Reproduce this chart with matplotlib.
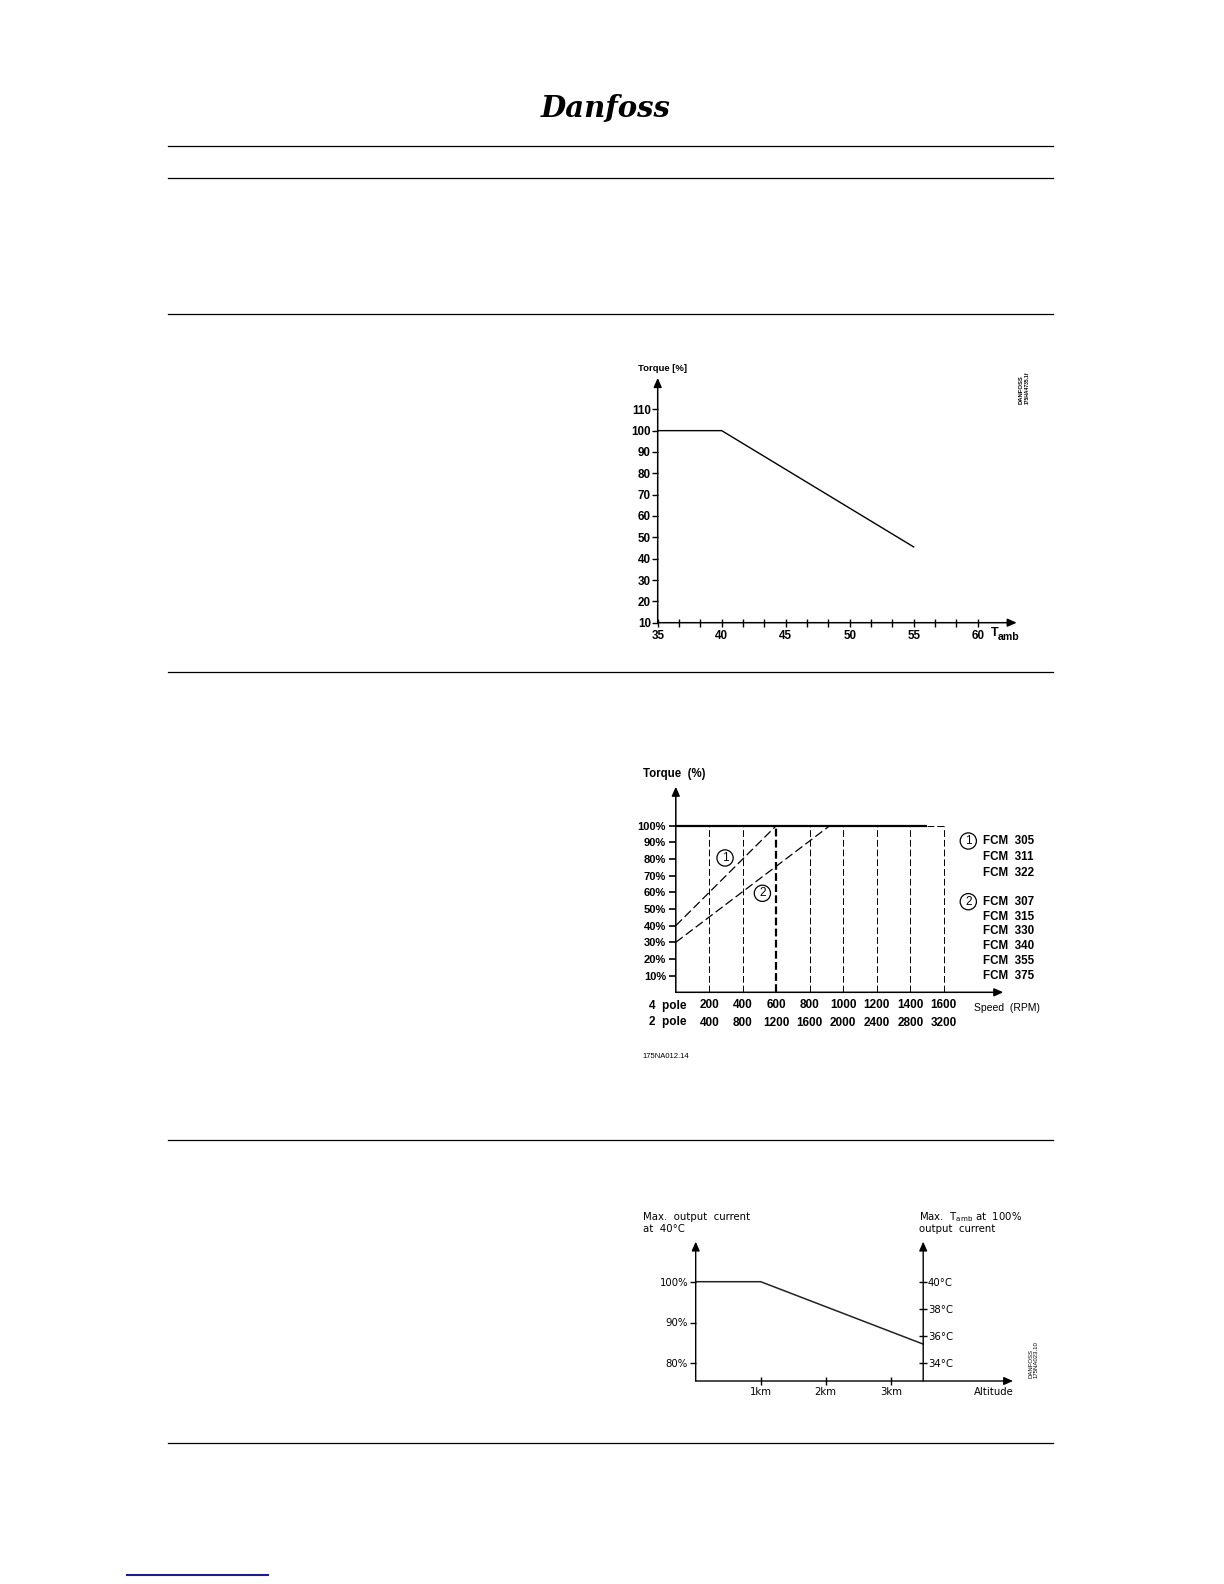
import matplotlib
matplotlib.use("Agg")
import matplotlib.pyplot as plt
from matplotlib.lines import Line2D

plt.rcParams["mathtext.default"] = "regular"

# ---------------- data: chart 1 (torque vs ambient temperature) ----------------
amb_temp = [35, 40, 55]
amb_torque = [100, 100, 45.5]
amb_xticks = [35, 40, 45, 50, 55, 60]
amb_yticks = [10, 20, 30, 40, 50, 60, 70, 80, 90, 100, 110]

# ---------------- data: chart 2 (torque vs speed) ----------------
speed_4pole = [200, 400, 600, 800, 1000, 1200, 1400, 1600]
speed_2pole = [400, 800, 1200, 1600, 2000, 2400, 2800, 3200]
torque_pct_ticks = [10, 20, 30, 40, 50, 60, 70, 80, 90, 100]
curve1_speed = [0, 600]
curve1_torque = [40, 100]
curve2_speed = [0, 920]
curve2_torque = [30, 100]
limit_solid_speed = [0, 1500]
limit_dashed_speed = [1500, 1600]
limit_torque = [100, 100]
group1_models = ["FCM  305", "FCM  311", "FCM  322"]
group2_models = ["FCM  307", "FCM  315", "FCM  330", "FCM  340", "FCM  355", "FCM  375"]

# ---------------- data: chart 3 (current vs altitude) ----------------
altitude_km = [0, 1, 3.5]
current_pct = [100, 100, 84.7]
alt_xticks = [1, 2, 3]
alt_xlabels = ["1km", "2km", "3km"]
current_ticks = [80, 90, 100]
current_labels = ["80%", "90%", "100%"]
tamb_ticks = [34, 36, 38, 40]
tamb_labels = ["34°C", "36°C", "38°C", "40°C"]

W, H = 1224, 1584
fig = plt.figure(figsize=(W / 100, H / 100), dpi=100)


def fx(x):
    return x / W


def fy(y):
    return 1 - y / H


def axes_px(x0, y0, x1, y1):
    ax = fig.add_axes([fx(x0), fy(y1), (x1 - x0) / W, (y1 - y0) / H])
    ax.patch.set_visible(False)
    for s in ax.spines.values():
        s.set_visible(False)
    return ax


ARROW = dict(arrowstyle="-|>,head_length=0.45,head_width=0.2", mutation_scale=12,
             lw=1.0, color="black", shrinkA=0, shrinkB=0)


def axis_arrows(ax, lw=1.0):
    a = dict(ARROW, lw=lw)
    ax.annotate("", xy=(1, 0), xytext=(0, 0), xycoords="axes fraction",
                textcoords="axes fraction", arrowprops=a)
    ax.annotate("", xy=(0, 1), xytext=(0, 0), xycoords="axes fraction",
                textcoords="axes fraction", arrowprops=a)


# ---------------- page decoration ----------------
for yy in [146, 178, 314, 672, 1140, 1443]:
    fig.add_artist(Line2D([fx(168), fx(1053)], [fy(yy), fy(yy)], lw=0.9, color="black"))
fig.add_artist(Line2D([fx(127), fx(268)], [fy(1575), fy(1575)], lw=1.5, color="#1c1c8c"))
fig.text(fx(606), fy(108), "Danfoss", fontfamily="DejaVu Serif", fontweight="bold",
         style="italic", fontsize=21, ha="center", va="center")

# ---------------- chart 1 ----------------
ax1 = axes_px(657.7, 378, 1016.7, 622.7)
ax1.set_xlim(35, 35 + (1016.7 - 657.7) / 12.8)
ax1.set_ylim(10, 10 + (622.7 - 378) / 2.134)
axis_arrows(ax1, lw=1.1)
ax1.plot(amb_temp, amb_torque, color="black", lw=1.0)
ax1.set_xticks(amb_xticks, labels=[str(v) for v in amb_xticks], fontfamily="Liberation Sans",
               fontweight="bold", fontsize=8.4)
ax1.set_xticks([35 + 5 * k / 3 for k in range(1, 16)], minor=True)
ax1.set_yticks(amb_yticks, labels=[str(v) for v in amb_yticks], fontfamily="Liberation Sans",
               fontweight="bold", fontsize=8.4)
ax1.tick_params(axis="x", which="both", direction="inout", length=6, width=1, pad=2)
ax1.tick_params(axis="y", direction="out", length=4, width=1, pad=1)
fig.text(fx(637.7), fy(368.3), "Torque [%]", fontfamily="Liberation Sans", fontweight="bold",
         fontsize=6.8, ha="left", va="center")
fig.text(fx(991), fy(635.5), "T", fontfamily="Liberation Sans", fontweight="bold",
         fontsize=9, ha="left", va="baseline")
fig.text(fx(997.5), fy(640), "amb", fontfamily="Liberation Sans", fontweight="bold",
         fontsize=7.6, ha="left", va="baseline")
fig.text(fx(1021.5), fy(404), "DANFOSS", fontfamily="Liberation Sans", fontweight="bold",
         fontsize=4.2, rotation=90, ha="center", va="bottom")
fig.text(fx(1027.5), fy(404), "175HA4735.1f", fontfamily="Liberation Sans", fontweight="bold",
         fontsize=3.6, rotation=90, ha="center", va="bottom")

# ---------------- chart 2 ----------------
PXU = 0.1675  # px per rpm
ax2 = axes_px(675.8, 786.7, 1003.3, 992.3)
ax2.set_xlim(0, (1003.3 - 675.8) / PXU)
ax2.set_ylim(0, (992.3 - 786.7) / 1.6667)
axis_arrows(ax2, lw=1.1)
for s in speed_4pole:
    ax2.plot([s, s], [0, 100], color="black", lw=1.6 if s == 600 else 0.7,
             dashes=(7, 3) if s != 600 else (3.5, 1.5))
ax2.plot(limit_solid_speed, limit_torque, color="black", lw=1.6, solid_capstyle="butt")
ax2.plot(limit_dashed_speed, limit_torque, color="black", lw=0.7, dashes=(7, 3))
ax2.plot(curve1_speed, curve1_torque, color="black", lw=0.9, dashes=(7, 3))
ax2.plot(curve2_speed, curve2_torque, color="black", lw=0.9, dashes=(7, 3))
circ = dict(boxstyle="circle,pad=0.18", fc="white", ec="black", lw=0.9)
ax2.text(294, 80.6, "1", fontfamily="Liberation Sans", fontsize=8.5, ha="center", va="center", bbox=circ)
ax2.text(517, 59.4, "2", fontfamily="Liberation Sans", fontsize=8.5, ha="center", va="center", bbox=circ)
ax2.set_yticks(torque_pct_ticks, labels=[f"{v}%" for v in torque_pct_ticks],
               fontfamily="Liberation Sans", fontweight="bold", fontsize=8.0)
ax2.tick_params(axis="y", direction="out", length=5, width=1.2, pad=2)
ax2.set_xticks([])
xt = ax2.get_xaxis_transform()
row1 = -(1005.5 - 992.3) / (992.3 - 786.7)
row2 = -(1022.5 - 992.3) / (992.3 - 786.7)
lbl = dict(fontfamily="Liberation Sans", fontweight="bold", fontsize=8.5, ha="center", va="center",
           transform=xt)
for a, b in zip(speed_4pole, speed_2pole):
    ax2.text(a, row1, str(a), **lbl)
    ax2.text(a, row2, str(b), **lbl)
ax2.text((668 - 675.8) / PXU, row1, "4  pole", **lbl)
ax2.text((668 - 675.8) / PXU, row2, "2  pole", **lbl)
fig.text(fx(1006.7), fy(1008), "Speed  (RPM)", fontfamily="Liberation Sans", fontsize=7.5,
         ha="center", va="center")
fig.text(fx(642.7), fy(774), "Torque  (%)", fontfamily="Liberation Sans", fontweight="bold",
         fontsize=8.3, ha="left", va="center")
fig.text(fx(642.7), fy(1057), "175NA012.14", fontfamily="Liberation Sans", fontsize=5.5,
         ha="left", va="center")
fcm = dict(fontfamily="Liberation Sans", fontweight="bold", fontsize=8.4, ha="left", va="center")
for i, m in enumerate(group1_models):
    fig.text(fx(983), fy(841 + 16 * i), m, **fcm)
for i, m in enumerate(group2_models):
    fig.text(fx(983), fy(901.7 + 14.9 * i), m, **fcm)
fig.text(fx(968.3), fy(841), "1", fontfamily="Liberation Sans", fontsize=8.5, ha="center",
         va="center", bbox=circ)
fig.text(fx(968.3), fy(901.7), "2", fontfamily="Liberation Sans", fontsize=8.5, ha="center",
         va="center", bbox=circ)

# ---------------- chart 3 ----------------
PXK = 65.0   # px per km
PXP = 4.08   # px per percent
ax3 = axes_px(695.7, 1241.7, 1013, 1381)
x3max = (1013 - 695.7) / PXK
y3min = 80 - (1381 - 1363.3) / PXP
y3max = 100 + (1281.7 - 1241.7) / PXP
ax3.set_xlim(0, x3max)
ax3.set_ylim(y3min, y3max)
axis_arrows(ax3, lw=1.0)
ax3.annotate("", xy=(altitude_km[-1], y3max), xytext=(altitude_km[-1], y3min),
             xycoords="data", textcoords="data", arrowprops=dict(ARROW, lw=1.0))
ax3.plot(altitude_km, current_pct, color="#222222", lw=1.1)
f3 = dict(fontfamily="DejaVu Sans", fontsize=7.3)
ax3.set_xticks(alt_xticks, labels=alt_xlabels, **f3)
ax3.set_yticks(current_ticks, labels=current_labels, **f3)
ax3.tick_params(axis="x", direction="inout", length=6, width=1, pad=1)
ax3.tick_params(axis="y", direction="out", length=4.5, width=1, pad=1)


def pct_to_t(p):
    return 40 - (100 - p) * 0.3


def t_to_pct(t):
    return 100 - (40 - t) / 0.3


sec = ax3.secondary_yaxis(altitude_km[-1] / x3max, functions=(pct_to_t, t_to_pct))
for s in sec.spines.values():
    s.set_visible(False)
sec.set_yticks(tamb_ticks, labels=tamb_labels, **f3)
sec.tick_params(axis="y", direction="inout", length=6, width=1, pad=0.5)

fig.text(fx(643.3), fy(1216.7), "Max.  output  current", ha="left", va="center", **f3)
fig.text(fx(643.3), fy(1229.3), "at  40°C", ha="left", va="center", **f3)
fig.text(fx(919), fy(1216.7), "Max.  T$_{amb}$ at  100%", ha="left", va="center", **f3)
fig.text(fx(919), fy(1229.3), "output  current", ha="left", va="center", **f3)
fig.text(fx(993.5), fy(1391.7), "Altitude", ha="center", va="center", **f3)
fig.text(fx(1031), fy(1378), "DANFOSS", fontfamily="Liberation Sans", fontsize=4.3,
         rotation=90, ha="center", va="bottom")
fig.text(fx(1036), fy(1378), "175NA023.10", fontfamily="Liberation Sans", fontsize=4.3,
         rotation=90, ha="center", va="bottom")

fig.savefig("out.png", dpi=100)
